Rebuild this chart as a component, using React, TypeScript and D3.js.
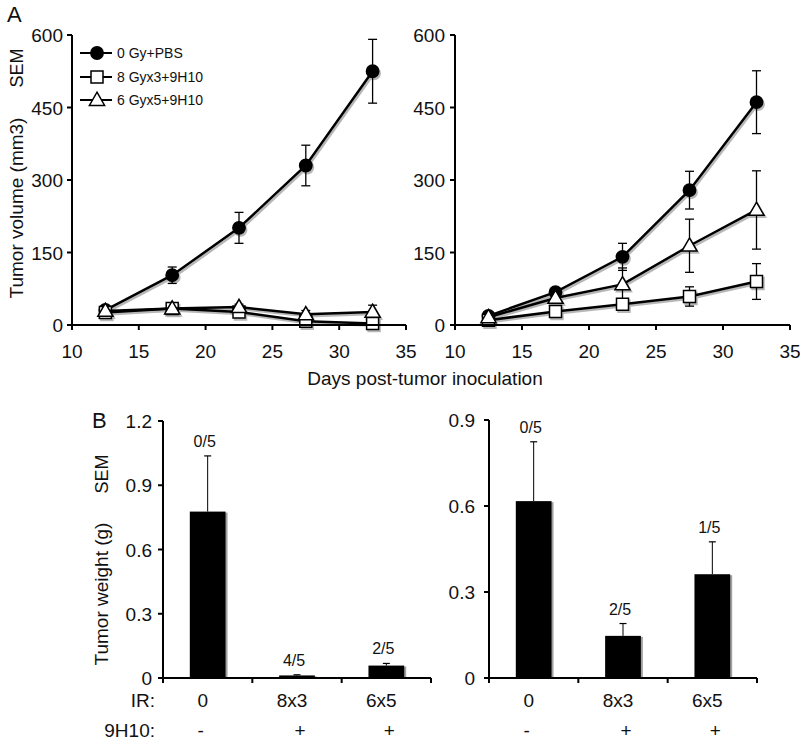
import React from 'react';
import * as d3 from 'd3';

const FONT = '"Liberation Sans", Arial, Helvetica, sans-serif';

// ---------- Panel A data ----------
const days = [12.5, 17.5, 22.5, 27.5, 32.5];
const dayTicks = [10, 15, 20, 25, 30, 35];
const volumeTicks = [0, 150, 300, 450, 600];
const seriesNames = ['0 Gy+PBS', '8 Gyx3+9H10', '6 Gyx5+9H10'];
const seriesMarkers = ['circle', 'square', 'triangle'];

const leftPBS = [31, 103, 201, 330, 525];
const leftPBSErr = [5, 17, 32, 42, 66];
const leftSq = [26, 34, 27, 8, 3];
const leftSqErr = [3, 4, 4, 3, 2];
const leftTri = [29, 34, 37, 22, 27];
const leftTriErr = [4, 5, 6, 8, 14];

const rightPBS = [19, 68, 141, 279, 461];
const rightPBSErr = [4, 9, 28, 39, 65];
const rightSq = [10, 28, 43, 59, 90];
const rightSqErr = [2, 5, 8, 20, 37];
const rightTri = [16, 56, 84, 164, 238];
const rightTriErr = [3, 8, 34, 55, 81];

// ---------- Panel B data ----------
const irLabels = ['0', '8x3', '6x5'];
const h10Labels = ['-', '+', '+'];
const leftWeightTicks = [0, 0.3, 0.6, 0.9, 1.2];
const rightWeightTicks = [0, 0.3, 0.6, 0.9];
const leftWeight = [0.777, 0.012, 0.058];
const leftWeightErr = [0.26, 0.003, 0.01];
const leftCounts = ['0/5', '4/5', '2/5'];
const rightWeight = [0.617, 0.147, 0.362];
const rightWeightErr = [0.207, 0.043, 0.113];
const rightCounts = ['0/5', '2/5', '1/5'];

type Series = { vals: number[]; errs: number[]; marker: string };

const symbolType: Record<string, d3.SymbolType> = {
  circle: d3.symbolCircle,
  square: d3.symbolSquare,
  triangle: d3.symbolTriangle,
};
const symbolSize: Record<string, number> = { circle: 120, square: 144, triangle: 100 };

function Marker({ type, cx, cy, shadow }: { type: string; cx: number; cy: number; shadow?: boolean }) {
  const path = d3.symbol().type(symbolType[type]).size(symbolSize[type])() as string;
  const dy = type === 'triangle' ? 1 : 0;
  const fill = shadow ? '#9a9a9a' : type === 'circle' ? '#000' : '#fff';
  const stroke = shadow ? '#9a9a9a' : '#000';
  return (
    <path
      d={path}
      transform={`translate(${cx},${cy + dy})`}
      fill={fill}
      stroke={stroke}
      strokeWidth={1.5}
    />
  );
}

function LinePanel({ xr, yr, series, labelGap }: { xr: [number, number]; yr: [number, number]; series: Series[]; labelGap: number }) {
  const x = d3.scaleLinear().domain([10, 35]).range(xr);
  const y = d3.scaleLinear().domain([0, 600]).range(yr);
  const line = d3
    .line<number>()
    .x((_, i) => x(days[i]))
    .y((d) => y(d));
  return (
    <g>
      {/* shadows */}
      <g transform="translate(1.5,2)" opacity={0.7}>
        {series.map((s, si) => (
          <path key={si} d={line(s.vals) as string} fill="none" stroke="#9a9a9a" strokeWidth={2.5} />
        ))}
        {series.map((s, si) =>
          s.vals.map((v, i) => <Marker key={si + '-' + i} type={s.marker} cx={x(days[i])} cy={y(v)} shadow />)
        )}
      </g>
      {/* error bars */}
      {series.map((s, si) =>
        s.vals.map((v, i) => {
          const cx = x(days[i]);
          const t = y(v + s.errs[i]);
          const b = y(Math.max(0, v - s.errs[i]));
          return (
            <g key={si + '-' + i} stroke="#000" strokeWidth={1.3}>
              <line x1={cx} x2={cx} y1={t} y2={b} />
              <line x1={cx - 4.5} x2={cx + 4.5} y1={t} y2={t} />
              <line x1={cx - 4.5} x2={cx + 4.5} y1={b} y2={b} />
            </g>
          );
        })
      )}
      {series.map((s, si) => (
        <g key={si}>
          <path d={line(s.vals) as string} fill="none" stroke="#000" strokeWidth={2.5} />
          {s.vals.map((v, i) => (
            <Marker key={i} type={s.marker} cx={x(days[i])} cy={y(v)} />
          ))}
        </g>
      ))}
      {/* axes */}
      <line x1={xr[0]} x2={xr[1]} y1={yr[0]} y2={yr[0]} stroke="#000" strokeWidth={2} />
      <line x1={xr[0]} x2={xr[0]} y1={yr[0] + 1} y2={yr[1]} stroke="#000" strokeWidth={2} />
      {dayTicks.map((t) => (
        <g key={'x' + t}>
          <line x1={x(t)} x2={x(t)} y1={yr[0]} y2={yr[0] + 5} stroke="#000" strokeWidth={2} />
          <text x={x(t)} y={358} textAnchor="middle" fontSize={19} fontFamily={FONT} fill="#111">
            {t}
          </text>
        </g>
      ))}
      {volumeTicks.map((t) => (
        <g key={'y' + t}>
          <line x1={xr[0] - 5} x2={xr[0]} y1={y(t)} y2={y(t)} stroke="#000" strokeWidth={2} />
          <text x={xr[0] - labelGap} y={y(t) + 7} textAnchor="end" fontSize={19} fontFamily={FONT} fill="#111">
            {t}
          </text>
        </g>
      ))}
    </g>
  );
}

function BarPanel({
  xr,
  yr,
  maxY,
  ticks,
  vals,
  errs,
  counts,
  labelGap,
}: {
  xr: [number, number];
  yr: [number, number];
  maxY: number;
  ticks: number[];
  vals: number[];
  errs: number[];
  counts: string[];
  labelGap: number;
}) {
  const x = d3.scaleBand<string>().domain(irLabels).range(xr).paddingInner(0.6).paddingOuter(0.3);
  const y = d3.scaleLinear().domain([0, maxY]).range(yr);
  const step = x.step();
  const edges = [0, 1, 2, 3].map((i) => xr[0] + i * step);
  return (
    <g>
      {vals.map((v, i) => {
        const bx = x(irLabels[i]) as number;
        const bw = x.bandwidth();
        const cx = bx + bw / 2;
        const top = y(v + errs[i]);
        return (
          <g key={i}>
            <rect x={bx + 2} y={y(v) + 1} width={bw} height={yr[0] - y(v) - 1} fill="#a0a0a0" />
            <line x1={cx} x2={cx} y1={y(v)} y2={top} stroke="#000" strokeWidth={1} />
            <line x1={cx - 3.5} x2={cx + 3.5} y1={top} y2={top} stroke="#000" strokeWidth={1.2} />
            <rect x={bx} y={y(v)} width={bw} height={yr[0] - y(v)} fill="#000" />
            <text x={cx - 3} y={top - 9} textAnchor="middle" fontSize={16} fontFamily={FONT} fill="#111">
              {counts[i]}
            </text>
            <text x={cx - 5} y={707} textAnchor="middle" fontSize={19} fontFamily={FONT} fill="#111">
              {irLabels[i]}
            </text>
            <text x={cx + (i === 0 ? -7 : 3)} y={737} textAnchor="middle" fontSize={19} fontFamily={FONT} fill="#111">
              {h10Labels[i]}
            </text>
          </g>
        );
      })}
      <line x1={xr[0]} x2={xr[1]} y1={yr[0]} y2={yr[0]} stroke="#000" strokeWidth={2} />
      <line x1={xr[0]} x2={xr[0]} y1={yr[0] + 1} y2={yr[1]} stroke="#000" strokeWidth={2} />
      {edges.map((e, i) => (
        <line key={'e' + i} x1={e} x2={e} y1={yr[0]} y2={yr[0] + 5} stroke="#000" strokeWidth={2} />
      ))}
      {ticks.map((t) => (
        <g key={'t' + t}>
          <line x1={xr[0] - 5} x2={xr[0]} y1={y(t)} y2={y(t)} stroke="#000" strokeWidth={2} />
          <text x={xr[0] - labelGap} y={y(t) + 7} textAnchor="end" fontSize={19} fontFamily={FONT} fill="#111">
            {t === 0 ? '0' : t.toFixed(1)}
          </text>
        </g>
      ))}
    </g>
  );
}

export default function App() {
  const leftSeries: Series[] = [
    { vals: leftPBS, errs: leftPBSErr, marker: seriesMarkers[0] },
    { vals: leftSq, errs: leftSqErr, marker: seriesMarkers[1] },
    { vals: leftTri, errs: leftTriErr, marker: seriesMarkers[2] },
  ];
  const rightSeries: Series[] = [
    { vals: rightPBS, errs: rightPBSErr, marker: seriesMarkers[0] },
    { vals: rightSq, errs: rightSqErr, marker: seriesMarkers[1] },
    { vals: rightTri, errs: rightTriErr, marker: seriesMarkers[2] },
  ];
  const legendRows = [53, 77, 100];
  return (
    <svg
      width={800}
      height={742}
      viewBox="0 0 800 742"
      style={{ position: 'absolute', left: 0, top: 0, background: '#fff' }}
      fontFamily={FONT}
    >
      <rect width={800} height={742} fill="#fff" />
      {/* Panel A */}
      <text x={7} y={22} fontSize={22} fill="#111">A</text>
      <text transform="translate(23,208) rotate(-90)" textAnchor="middle" fontSize={19} fill="#111">
        Tumor volume (mm3)
      </text>
      <text transform="translate(23,68) rotate(-90)" textAnchor="middle" fontSize={18} fill="#111">
        SEM
      </text>
      <LinePanel xr={[72, 406]} yr={[325, 35]} series={leftSeries} labelGap={9} />
      <LinePanel xr={[455, 790]} yr={[325, 35]} series={rightSeries} labelGap={10} />
      <text x={425} y={385} textAnchor="middle" fontSize={19} fill="#111">
        Days post-tumor inoculation
      </text>
      {/* Legend */}
      {seriesNames.map((n, i) => (
        <g key={n}>
          <line x1={80} x2={112} y1={legendRows[i]} y2={legendRows[i]} stroke="#000" strokeWidth={2} />
          <Marker type={seriesMarkers[i]} cx={97} cy={legendRows[i]} />
          <text x={117} y={legendRows[i] + 5} fontSize={14} fill="#111">
            {n}
          </text>
        </g>
      ))}
      {/* Panel B */}
      <text x={92} y={428} fontSize={22} fill="#111">B</text>
      <text transform="translate(108,594) rotate(-90)" textAnchor="middle" fontSize={19} fill="#111">
        Tumor weight (g)
      </text>
      <text transform="translate(108,474) rotate(-90)" textAnchor="middle" fontSize={18} fill="#111">
        SEM
      </text>
      <BarPanel
        xr={[163, 431]}
        yr={[678, 421]}
        maxY={1.2}
        ticks={leftWeightTicks}
        vals={leftWeight}
        errs={leftWeightErr}
        counts={leftCounts}
        labelGap={11}
      />
      <BarPanel
        xr={[489, 757]}
        yr={[678, 420]}
        maxY={0.9}
        ticks={rightWeightTicks}
        vals={rightWeight}
        errs={rightWeightErr}
        counts={rightCounts}
        labelGap={14}
      />
      <text x={155} y={707} textAnchor="end" fontSize={19} fill="#111">IR:</text>
      <text x={155} y={737} textAnchor="end" fontSize={19} fill="#111">9H10:</text>
    </svg>
  );
}
